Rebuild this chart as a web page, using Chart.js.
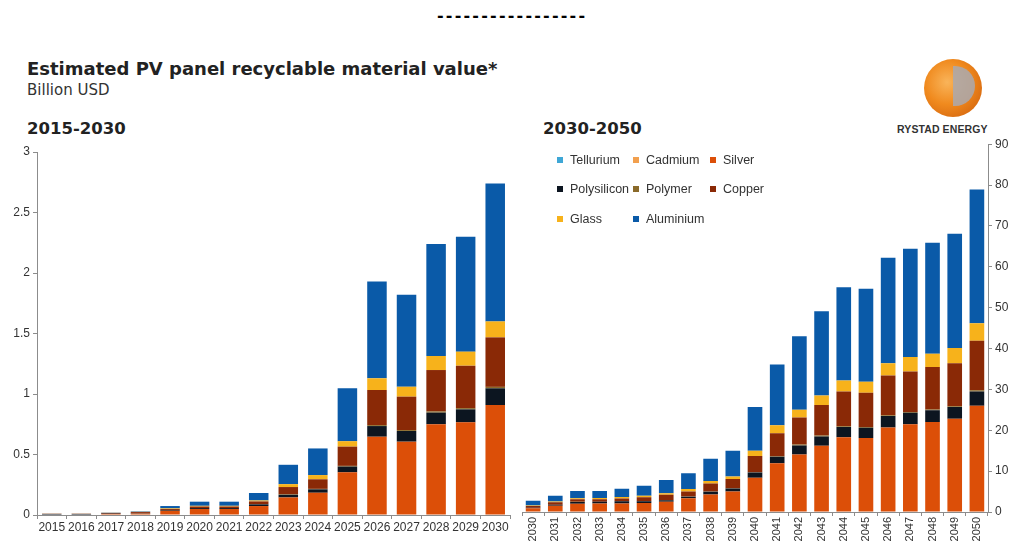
<!DOCTYPE html>
<html>
<head>
<meta charset="utf-8">
<script src="https://cdn.jsdelivr.net/npm/chart.js@4.4.1/dist/chart.umd.min.js"></script>
<style>
  body { margin: 0; background: #fff; width: 1013px; height: 543px; overflow: hidden; position: relative; font-family: "Liberation Sans", Arial, sans-serif; }
  .abs { position: absolute; white-space: nowrap; }
  #dashes { left: 437px; top: 6px; font: bold 16px "DejaVu Sans"; letter-spacing: 2.2px; color: #000; }
  #title { left: 27px; top: 58px; font: bold 18px "DejaVu Sans"; color: #222; }
  #unit { left: 27px; top: 81px; font: 15px "DejaVu Sans"; color: #333; }
  .period { top: 119px; font: bold 16.5px "DejaVu Sans"; color: #222; }
  #legend { left: 557px; top: 153px; font-size: 12.5px; color: #333; }
  .item { position: absolute; white-space: nowrap; }
  .item i { display: inline-block; width: 6px; height: 6px; margin-right: 7px; vertical-align: 1px; }
  #globe { left: 924px; top: 59px; width: 58px; height: 58px; border-radius: 50%;
    background: radial-gradient(circle at 40% 40%, #f9b45a 0%, #f08a1e 45%, #d86a10 80%, #b65a18 100%); }
  #globe2 { left: 953px; top: 66px; width: 22px; height: 40px; border-radius: 0 20px 20px 0; background: #a9a9b0; opacity: 0.85; }
  #brand { left: 897px; top: 123px; font: bold 10.5px "Liberation Sans", Arial; color: #333; letter-spacing: 0.1px; }
  #c1 { position: absolute; left: 0; top: 140px; }
  #c2 { position: absolute; left: 515px; top: 134px; }
</style>
</head>
<body>
<div class="abs" id="dashes">-----------------</div>
<div class="abs" id="title">Estimated PV panel recyclable material value*</div>
<div class="abs" id="unit">Billion USD</div>
<div class="abs period" style="left:27px">2015-2030</div>
<div class="abs period" style="left:543px">2030-2050</div>
<div class="abs" id="globe"></div>
<div class="abs" id="globe2"></div>
<div class="abs" id="brand">RYSTAD ENERGY</div>
<canvas id="c1" width="515" height="403"></canvas>
<canvas id="c2" width="498" height="409"></canvas>
<div class="abs" id="legend"></div>
<script>
// Materiales y colores (orden de apilado, de abajo hacia arriba)
const materials = ["Tellurium", "Cadmium", "Silver", "Polysilicon", "Polymer", "Copper", "Glass", "Aluminium"];
const colors = ["#3fa7d6", "#f2a04e", "#dc4f08", "#0c1520", "#8a6a2a", "#8a2906", "#f7b21b", "#0a5aa8"];

// 2015-2030, miles de millones USD
const yearsA = ["2015", "2016", "2017", "2018", "2019", "2020", "2021", "2022", "2023", "2024", "2025", "2026", "2027", "2028", "2029", "2030"];
const telluriumA = [0, 0, 0, 0, 0, 0, 0, 0, 0, 0, 0, 0, 0, 0, 0, 0];
const cadmiumA = [0, 0, 0, 0, 0, 0, 0, 0, 0, 0, 0, 0, 0, 0, 0, 0];
const silverA = [0.004, 0.004, 0.008, 0.012, 0.035, 0.05, 0.05, 0.074, 0.145, 0.184, 0.353, 0.647, 0.606, 0.75, 0.766, 0.909];
const polysiliconA = [0.004, 0.004, 0.003, 0.004, 0.007, 0.008, 0.008, 0.014, 0.022, 0.028, 0.047, 0.088, 0.088, 0.096, 0.107, 0.138];
const polymerA = [0, 0, 0, 0, 0, 0, 0, 0.002, 0.004, 0.004, 0.006, 0.008, 0.008, 0.01, 0.01, 0.012];
const copperA = [0.002, 0.002, 0.006, 0.008, 0.008, 0.012, 0.012, 0.022, 0.06, 0.079, 0.159, 0.29, 0.276, 0.342, 0.351, 0.409];
const glassA = [0.001, 0.001, 0.001, 0.002, 0.005, 0.006, 0.006, 0.008, 0.024, 0.035, 0.045, 0.097, 0.082, 0.116, 0.116, 0.132];
const aluminiumA = [0.001, 0.001, 0.002, 0.004, 0.019, 0.034, 0.034, 0.062, 0.16, 0.22, 0.437, 0.8, 0.76, 0.926, 0.95, 1.14];
const ticksA = [0, 0.5, 1, 1.5, 2, 2.5, 3];

// 2030-2050, miles de millones USD
const yearsB = ["2030", "2031", "2032", "2033", "2034", "2035", "2036", "2037", "2038", "2039", "2040", "2041", "2042", "2043", "2044", "2045", "2046", "2047", "2048", "2049", "2050"];
const telluriumB = [0, 0, 0, 0, 0, 0, 0, 0, 0, 0, 0, 0, 0, 0, 0, 0, 0, 0, 0, 0, 0];
const cadmiumB = [0, 0, 0, 0, 0, 0, 0, 0, 0, 0, 0, 0, 0, 0, 0, 0, 0, 0, 0, 0, 0];
const silverB = [0.91, 1.5, 2.0, 2.05, 2.1, 2.2, 2.5, 3.35, 4.3, 5.0, 8.4, 11.9, 14.1, 16.2, 18.3, 18.1, 20.7, 21.5, 22.0, 22.8, 26.0];
const polysiliconB = [0.14, 0.25, 0.45, 0.45, 0.5, 0.4, 0.4, 0.4, 0.65, 0.75, 1.25, 1.6, 2.2, 2.3, 2.5, 2.5, 2.8, 2.8, 2.9, 2.9, 3.5];
const polymerB = [0.01, 0.02, 0.03, 0.03, 0.03, 0.03, 0.04, 0.05, 0.05, 0.05, 0.1, 0.15, 0.2, 0.2, 0.2, 0.2, 0.2, 0.2, 0.2, 0.2, 0.3];
const copperB = [0.41, 0.6, 0.62, 0.62, 0.67, 1.0, 1.26, 1.2, 2.0, 2.3, 3.95, 5.65, 6.6, 7.5, 8.5, 8.4, 9.7, 9.9, 10.4, 10.5, 12.1];
const glassB = [0.13, 0.2, 0.25, 0.25, 0.35, 0.37, 0.4, 0.6, 0.6, 0.6, 1.3, 1.9, 1.9, 2.3, 2.7, 2.7, 3.0, 3.5, 3.2, 3.7, 4.3];
const aluminiumB = [1.14, 1.43, 1.8, 1.75, 2.05, 2.45, 3.2, 3.9, 5.4, 6.3, 10.7, 14.9, 18.0, 20.6, 22.8, 22.7, 25.8, 26.5, 27.2, 28.0, 32.7];
const ticksB = [0, 10, 20, 30, 40, 50, 60, 70, 80, 90];

const seriesA = [telluriumA, cadmiumA, silverA, polysiliconA, polymerA, copperA, glassA, aluminiumA];
const seriesB = [telluriumB, cadmiumB, silverB, polysiliconB, polymerB, copperB, glassB, aluminiumB];

const axisColor = "#8c8c8c";
const tickFont = { family: "'Liberation Sans', Arial, sans-serif", size: 12 };

function buildDatasets(series) {
    return series.map((data, i) => ({
        label: materials[i],
        data: data,
        backgroundColor: colors[i],
        borderWidth: 0,
        barPercentage: 0.66,
        categoryPercentage: 1
    }));
}

function makeChart(canvasId, labels, series, ticks, opts) {
    return new Chart(document.getElementById(canvasId), {
        type: "bar",
        data: { labels: labels, datasets: buildDatasets(series) },
        options: {
            responsive: false,
            animation: false,
            layout: { padding: opts.padding },
            plugins: { legend: { display: false }, tooltip: { enabled: false } },
            scales: {
                x: {
                    stacked: true,
                    border: { color: axisColor },
                    grid: { drawOnChartArea: false, color: axisColor, tickLength: 4, offset: true },
                    ticks: {
                        color: "#333",
                        font: { family: tickFont.family, size: opts.xFontSize },
                        autoSkip: false,
                        minRotation: opts.rotation,
                        maxRotation: opts.rotation,
                        padding: 1
                    },
                    afterFit: (scale) => { scale.height = opts.xHeight; }
                },
                y: {
                    stacked: true,
                    position: opts.yPosition,
                    min: 0,
                    max: ticks[ticks.length - 1],
                    border: { color: axisColor },
                    grid: { drawOnChartArea: false, color: axisColor, tickLength: 4 },
                    afterBuildTicks: (scale) => { scale.ticks = ticks.map(v => ({ value: v })); },
                    ticks: { color: "#333", font: tickFont, padding: 3, callback: (v) => String(v) },
                    afterFit: (scale) => { scale.width = opts.yWidth; }
                }
            }
        }
    });
}

makeChart("c1", yearsA, seriesA, ticksA, {
    padding: { top: 12, right: 5, left: 0, bottom: 0 },
    xHeight: 28, yWidth: 37, yPosition: "left", rotation: 0, xFontSize: 12
});

makeChart("c2", yearsB, seriesB, ticksB, {
    padding: { top: 10, right: 0, left: 7, bottom: 0 },
    xHeight: 31, yWidth: 25, yPosition: "right", rotation: 90, xFontSize: 11
});

// Leyenda en HTML (3 columnas)
const legendPos = [[0, 0], [76, 0], [153, 0], [0, 29], [76, 29], [153, 29], [0, 59], [76, 59]];
const legend = document.getElementById("legend");
materials.forEach((name, i) => {
    const el = document.createElement("div");
    el.className = "item";
    el.style.left = legendPos[i][0] + "px";
    el.style.top = legendPos[i][1] + "px";
    el.innerHTML = `<i style="background:${colors[i]}"></i>${name}`;
    legend.appendChild(el);
});
</script>
</body>
</html>
